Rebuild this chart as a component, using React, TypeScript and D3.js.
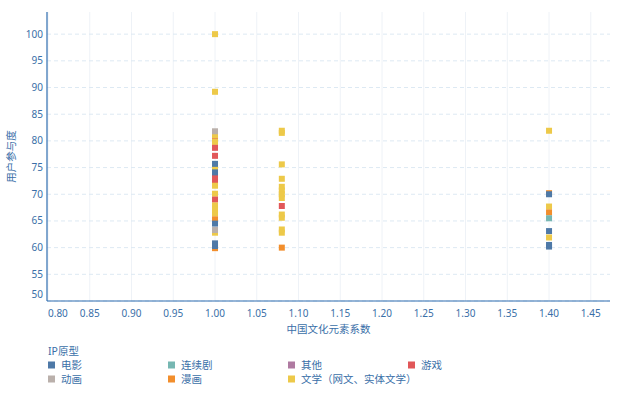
import React from 'react';
import * as d3 from 'd3';

// IP types, legend order (4 columns)
const categories = ['电影', '连续剧', '其他', '游戏', '动画', '漫画', '文学（网文、实体文学）'];
const categoryColors = ['#4e79a7', '#76b7b2', '#af7aa1', '#e15759', '#bab0ab', '#f28e2c', '#edc949'];

// points, in drawing order
const pointX = [
  1.0, 1.0, 1.0, 1.0, 1.0, 1.0, 1.0, 1.0, 1.0, 1.0, 1.0, 1.0, 1.0, 1.0, 1.0, 1.0, 1.0, 1.0, 1.0, 1.0, 1.0, 1.0, 1.0, 1.0, 1.0, 1.0,
  1.08, 1.08, 1.08, 1.08, 1.08, 1.08, 1.08, 1.08, 1.08, 1.08, 1.08, 1.08, 1.08, 1.08,
  1.4, 1.4, 1.4, 1.4, 1.4, 1.4, 1.4, 1.4, 1.4, 1.4,
];
const pointY = [
  100, 89.2, 80.4, 81.0, 81.8, 79.8, 78.7, 77.2, 75.0, 75.7, 73.2, 74.1, 72.2, 71.6, 70.1, 69.0, 67.9, 67.1, 66.4, 65.3, 64.5, 62.8, 63.3, 59.9, 60.3, 60.8,
  81.5, 81.9, 75.6, 72.9, 71.4, 70.7, 70.0, 69.3, 67.8, 66.2, 65.6, 63.4, 62.8, 60.0,
  81.9, 70.2, 70.0, 67.7, 66.6, 65.5, 63.1, 61.9, 60.2, 60.5,
];
const pointType = [
  '文学（网文、实体文学）', '文学（网文、实体文学）', '游戏', '文学（网文、实体文学）', '动画', '文学（网文、实体文学）', '游戏', '游戏',
  '文学（网文、实体文学）', '电影', '游戏', '电影', '游戏', '文学（网文、实体文学）', '文学（网文、实体文学）', '游戏',
  '文学（网文、实体文学）', '文学（网文、实体文学）', '文学（网文、实体文学）', '漫画', '电影', '文学（网文、实体文学）', '动画', '漫画', '电影', '电影',
  '文学（网文、实体文学）', '文学（网文、实体文学）', '文学（网文、实体文学）', '文学（网文、实体文学）', '文学（网文、实体文学）',
  '文学（网文、实体文学）', '文学（网文、实体文学）', '文学（网文、实体文学）', '游戏', '文学（网文、实体文学）', '文学（网文、实体文学）',
  '文学（网文、实体文学）', '文学（网文、实体文学）', '漫画',
  '文学（网文、实体文学）', '漫画', '电影', '文学（网文、实体文学）', '漫画', '连续剧', '电影', '文学（网文、实体文学）', '电影', '电影',
];

const xTicks = [0.8, 0.85, 0.9, 0.95, 1.0, 1.05, 1.1, 1.15, 1.2, 1.25, 1.3, 1.35, 1.4, 1.45];
const yTicks = [50, 55, 60, 65, 70, 75, 80, 85, 90, 95, 100];

const W = 635;
const H = 394;
const plot = { left: 47, right: 610, top: 12, bottom: 301 };
const font = '"Noto Sans", "Noto Sans CJK SC", sans-serif';
const textColor = '#3a6fa8';
const axisColor = '#2f6db0';

const App: React.FC = () => {
  const x = d3.scaleLinear().domain([0.7988, 1.473]).range([plot.left, plot.right]);
  const y = d3.scaleLinear().domain([50, 104.15]).range([plot.bottom, plot.top]);
  const color = d3.scaleOrdinal<string, string>().domain(categories).range(categoryColors);
  const size = 6;

  return (
    <svg
      width={W}
      height={H}
      style={{ position: 'absolute', left: 0, top: 0, background: '#fff' }}
      fontFamily={font}
    >
      {/* grid */}
      {xTicks.map(t => (
        <line key={'gx' + t} x1={x(t)} x2={x(t)} y1={plot.top} y2={plot.bottom} stroke="#eef2f7" strokeWidth={1} />
      ))}
      {yTicks.map(t => (
        <line
          key={'gy' + t}
          x1={plot.left}
          x2={plot.right}
          y1={y(t)}
          y2={y(t)}
          stroke="#dde9f3"
          strokeWidth={1}
          strokeDasharray="4,3"
        />
      ))}

      {/* points */}
      {pointX.map((px, i) => (
        <rect
          key={'p' + i}
          x={x(px) - size / 2}
          y={y(pointY[i]) - size / 2}
          width={size}
          height={size}
          fill={color(pointType[i])}
        />
      ))}

      {/* axes */}
      <line x1={plot.left} x2={plot.left} y1={plot.top} y2={plot.bottom} stroke={axisColor} strokeWidth={1.2} />
      <line x1={plot.left} x2={plot.right} y1={plot.bottom} y2={plot.bottom} stroke={axisColor} strokeWidth={1.2} />

      {xTicks.map((t, i) => (
        <text
          key={'xl' + t}
          x={x(t)}
          y={316.5}
          fontSize={10}
          fill={textColor}
          textAnchor={i === 0 ? 'start' : 'middle'}
        >
          {t.toFixed(2)}
        </text>
      ))}
      {yTicks.map((t, i) => (
        <text
          key={'yl' + t}
          x={43}
          y={i === 0 ? y(t) - 3 : y(t) + 3.5}
          fontSize={10}
          fill={textColor}
          textAnchor="end"
        >
          {t}
        </text>
      ))}

      <text x={(plot.left + plot.right) / 2} y={333} fontSize={10.5} fill={textColor} textAnchor="middle">
        中国文化元素系数
      </text>
      <text
        transform={`translate(15,${(plot.top + plot.bottom) / 2}) rotate(-90)`}
        fontSize={10.5}
        fill={textColor}
        textAnchor="middle"
      >
        用户参与度
      </text>

      {/* legend */}
      <text x={48} y={355} fontSize={10.5} fill={textColor}>
        IP原型
      </text>
      {categories.map((c, i) => {
        const col = i % 4;
        const row = Math.floor(i / 4);
        const lx = 48 + col * 120;
        const ly = 365 + row * 14;
        return (
          <g key={'lg' + c}>
            <rect x={lx} y={ly - 3.5} width={7} height={7} fill={color(c)} />
            <text x={lx + 13} y={ly + 3.8} fontSize={10.5} fill={textColor}>
              {c}
            </text>
          </g>
        );
      })}
    </svg>
  );
};

export default App;
